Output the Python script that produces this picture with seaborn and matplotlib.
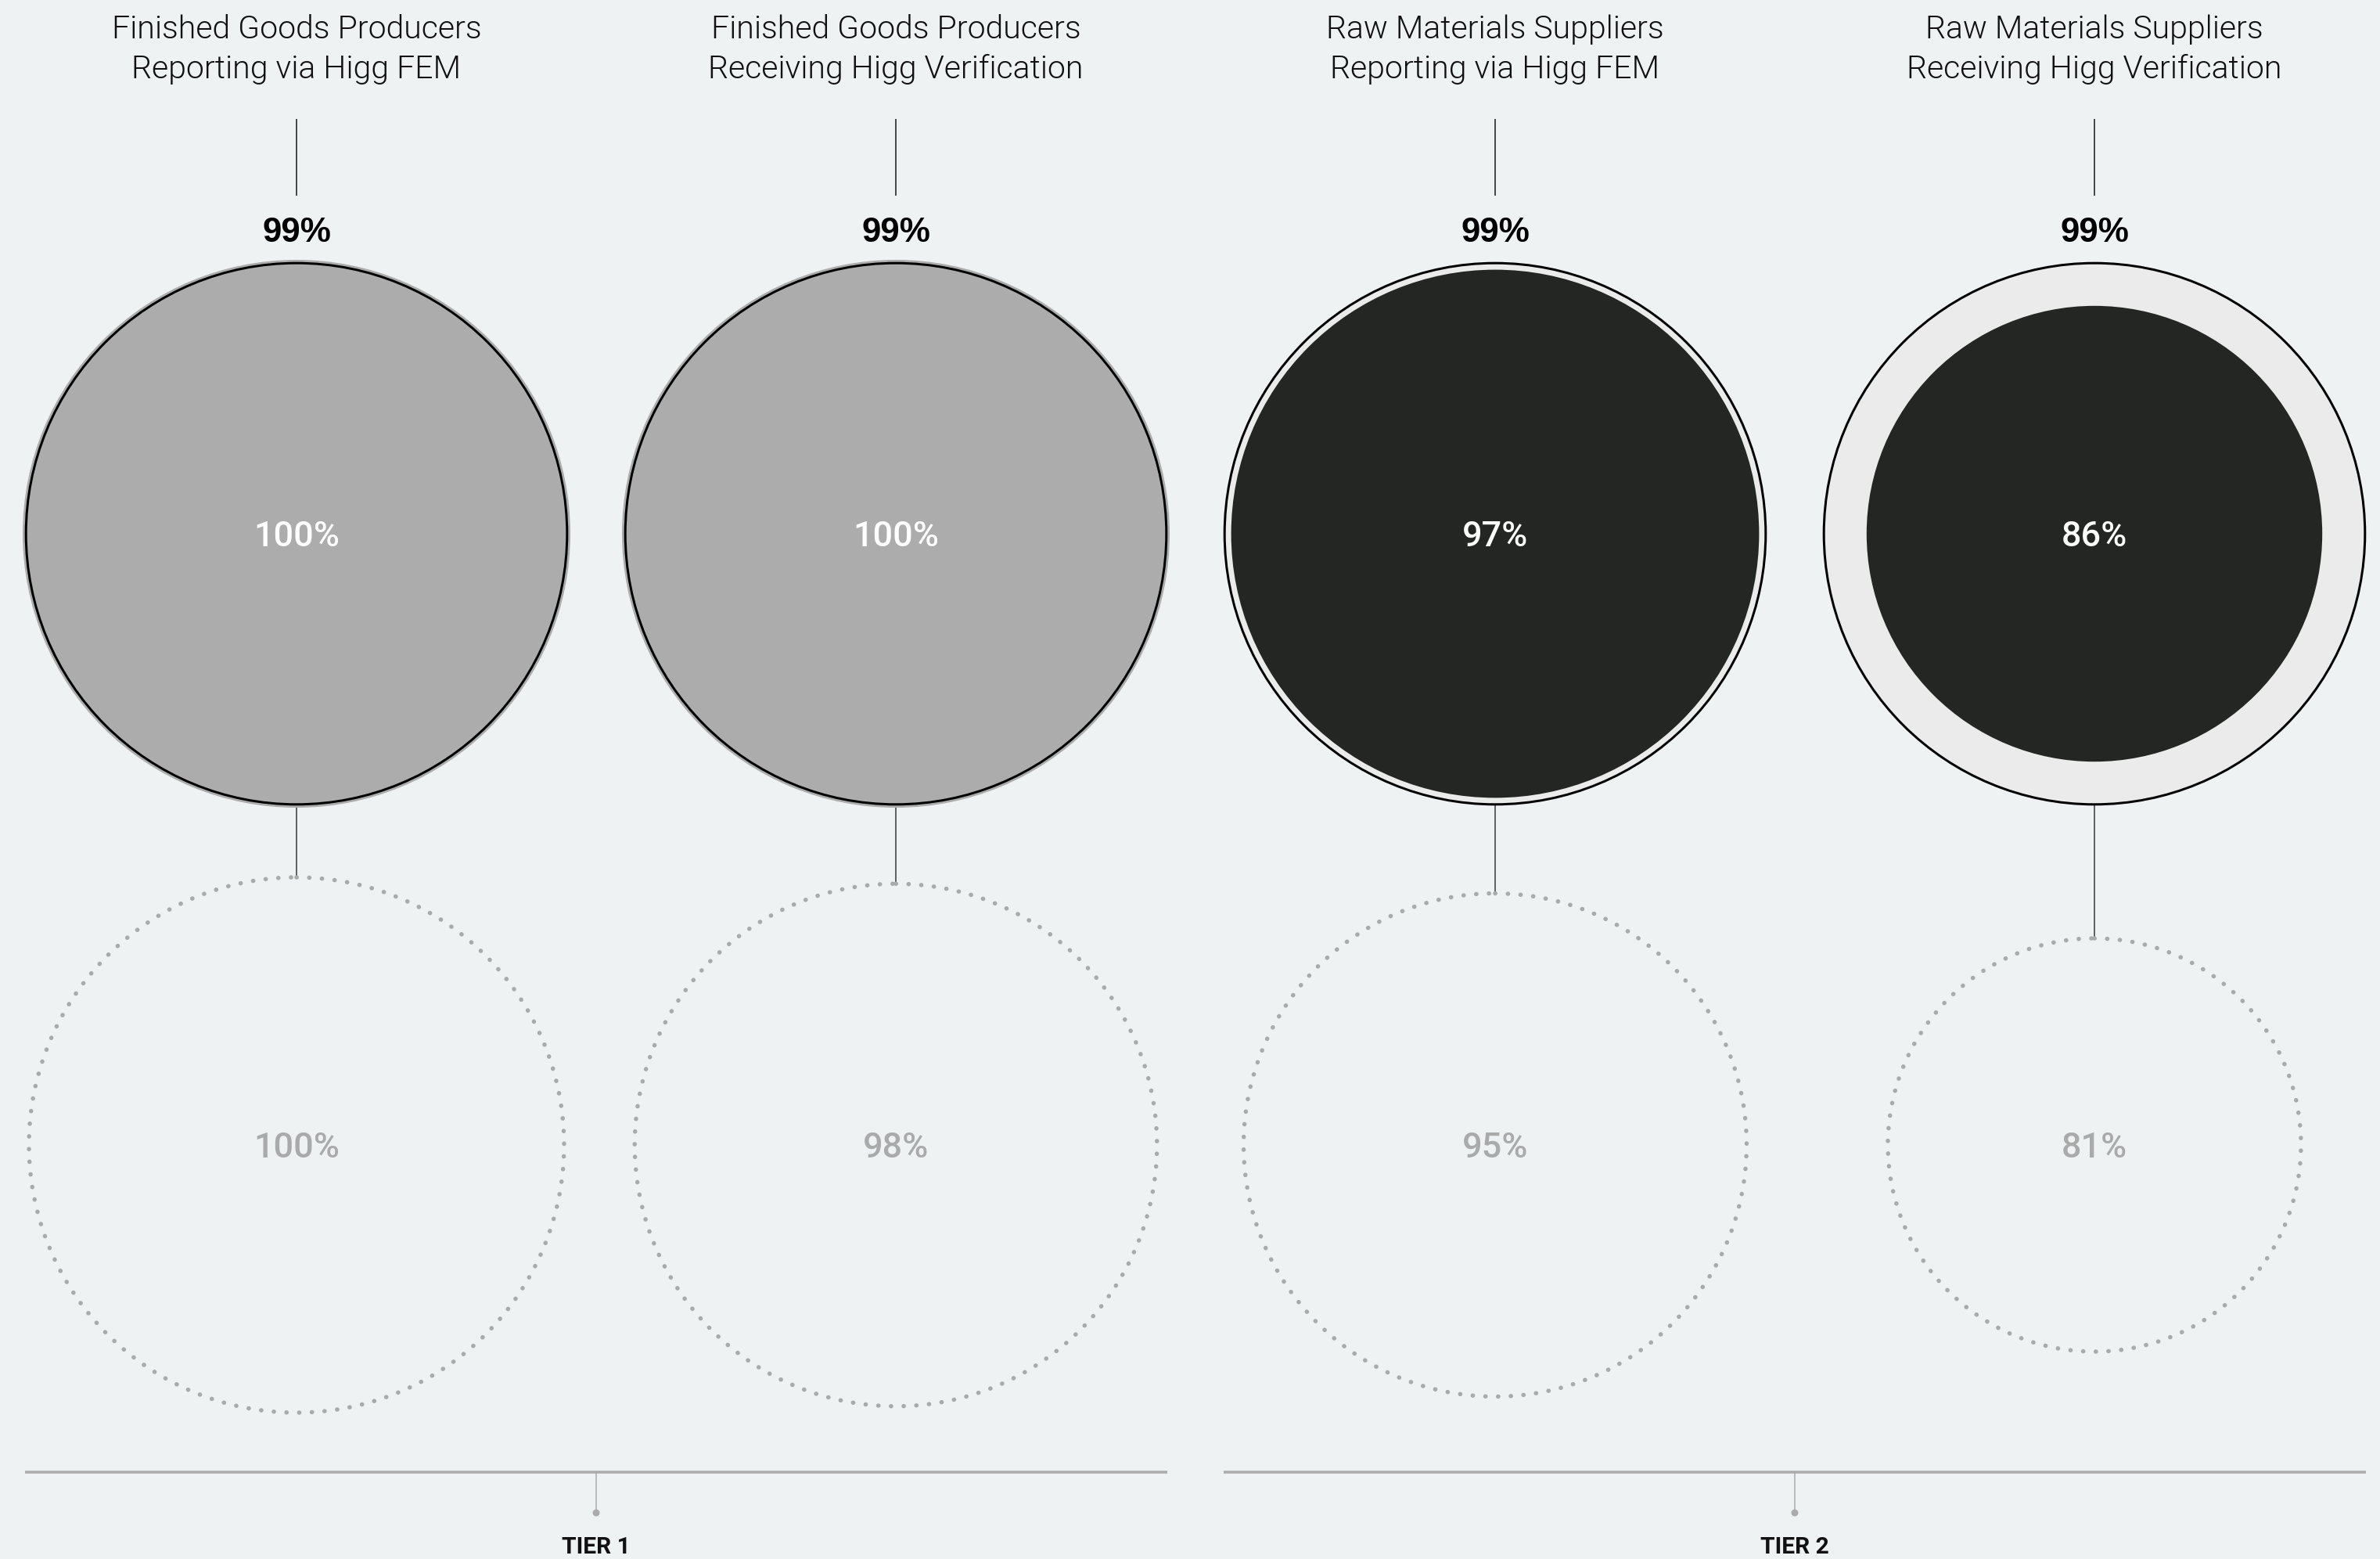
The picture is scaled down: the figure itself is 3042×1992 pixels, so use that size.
import numpy as np
import pandas as pd
import matplotlib
matplotlib.use("Agg")
import matplotlib.pyplot as plt
from matplotlib.patches import Circle
import seaborn as sns

# ---------------- data ----------------
titles = [
    "Finished Goods Producers\nReporting via Higg FEM",
    "Finished Goods Producers\nReceiving Higg Verification",
    "Raw Materials Suppliers\nReporting via Higg FEM",
    "Raw Materials Suppliers\nReceiving Higg Verification",
]
outline_values = [99, 99, 99, 99]      # black outline ring (label above)
fill_values = [100, 100, 97, 86]       # filled disk (label inside)
dotted_values = [100, 98, 95, 81]      # dotted circle below
column_tier = [0, 0, 1, 1]
tier_labels = ["TIER 1", "TIER 2"]

# ---------------- style ----------------
BG = "#EEF2F2"
TIER_FILL = ["#ABACAB", "#242623"]
RING_FILL = "#EBEBEB"
DOT_COLOR = "#A9AAAA"
AXIS_GRAY = "#ABABAB"
INK = "#111111"

W, H, DPI = 3042, 1992, 100
sns.set_theme(style="white")
plt.rcParams["font.family"] = ["Roboto", "DejaVu Sans"]
HELV = ["Liberation Sans", "DejaVu Sans"]

fig = plt.figure(figsize=(W / DPI, H / DPI), dpi=DPI)
fig.patch.set_facecolor(BG)
ax = fig.add_axes([0, 0, 1, 1])
ax.set_facecolor(BG)
ax.set_xlim(0, W)
ax.set_ylim(H, 0)
ax.set_aspect("equal")
ax.axis("off")

# layout (pixel space)
X0, DX = 379, 766
CY_TOP, CY_BOT = 682, 1463
R_FILL, R_DOT = 350, 342
px = 72 / DPI  # points per pixel


def scale(v):
    # radius scale: 100% -> full radius, steeper than proportional
    return 1.0 - 0.012 * (100.0 - v)


def r_top(v):
    return R_FILL * scale(v)


def r_dot(v):
    return R_DOT * scale(v)


col_x = [X0 + i * DX for i in range(len(titles))]

for i, x in enumerate(col_x):
    t = column_tier[i]
    ro = r_top(outline_values[i])
    rf = r_top(fill_values[i])
    rd = r_dot(dotted_values[i])

    # title
    ax.text(x, 63, titles[i], ha="center", va="center", fontsize=41 * px,
            color=INK, fontweight=300, linespacing=1.4)
    # connector title -> label
    ax.plot([x, x], [152, 250], color=INK, lw=1.5 * px, solid_capstyle="butt")
    # outline label
    ax.text(x, 297, f"{outline_values[i]}%", ha="center", va="center",
            fontsize=44 * px, color="#000000", fontweight="bold", family=HELV)

    # ring background, fill disk, outline
    ax.add_patch(Circle((x, CY_TOP), ro, facecolor=RING_FILL, edgecolor="none", zorder=2))
    ax.add_patch(Circle((x, CY_TOP), rf, facecolor=TIER_FILL[t], edgecolor="none", zorder=3))
    ax.add_patch(Circle((x, CY_TOP), ro, facecolor="none", edgecolor="#000000",
                        lw=3 * px, zorder=4))
    ax.text(x, CY_TOP + 4, f"{fill_values[i]}%", ha="center", va="center",
            fontsize=45 * px, color="white", fontweight=500, zorder=5)

    # connector top circle -> dotted circle
    ax.plot([x, x], [CY_TOP + ro, CY_BOT - rd], color="#333333", lw=1.5 * px,
            solid_capstyle="butt", zorder=1)

    # dotted circle
    dc = Circle((x, CY_BOT), rd, facecolor="none", edgecolor=DOT_COLOR,
                lw=5.5 * px, linestyle=(0, (0.05, 2.9)), zorder=2)
    dc.set_capstyle("round")
    ax.add_patch(dc)
    ax.text(x, CY_BOT + 4, f"{dotted_values[i]}%", ha="center", va="center",
            fontsize=45 * px, color=DOT_COLOR, fontweight=500, zorder=5)

# tier axis
AXIS_Y, HALF = 1881, 730
tier_centers = [np.mean([col_x[i] for i in range(len(col_x)) if column_tier[i] == k])
                for k in range(len(tier_labels))]
for k, cx in enumerate(tier_centers):
    ax.plot([cx - HALF, cx + HALF], [AXIS_Y, AXIS_Y], color=AXIS_GRAY, lw=3.5 * px,
            solid_capstyle="butt")
    ax.plot([cx, cx], [AXIS_Y, 1933], color=AXIS_GRAY, lw=1.5 * px)
    ax.text(cx, 1977, tier_labels[k], ha="center", va="center", fontsize=30 * px,
            color=INK, fontweight="bold")

dots = pd.DataFrame({"x": tier_centers, "y": [1933] * len(tier_centers)})
sns.scatterplot(data=dots, x="x", y="y", ax=ax, s=(9 * px) ** 2, color=AXIS_GRAY,
                edgecolor="none", legend=False, zorder=3)
ax.set_xlim(0, W)
ax.set_ylim(H, 0)
ax.axis("off")

fig.savefig("out.png", dpi=DPI, facecolor=BG)
